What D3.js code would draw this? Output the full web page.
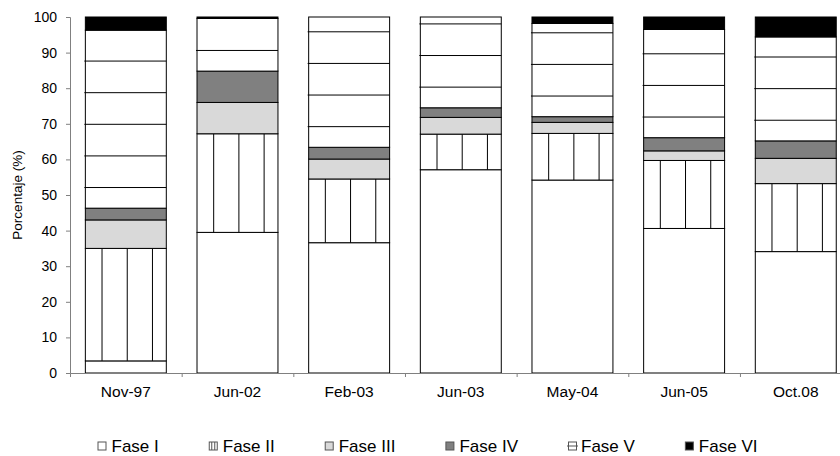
<!DOCTYPE html>
<html><head><meta charset="utf-8">
<script src="https://cdn.jsdelivr.net/npm/d3@7/dist/d3.min.js"></script>
<style>body{margin:0;background:#fff}svg{display:block;font-family:"Liberation Sans",Arial,sans-serif}</style>
</head><body><svg id="c" width="840" height="456"></svg>
<script>
const categories = ["Nov-97","Jun-02","Feb-03","Jun-03","May-04","Jun-05","Oct.08"];
const faseI   = [3.4,39.5,36.6,57.1,54.2,40.6,34.1];
const faseII  = [31.6,27.7,17.9,10.0,13.1,19.1,19.1];
const faseIII = [8.0,8.8,5.6,4.7,3.1,2.7,7.1];
const faseIV  = [3.3,8.8,3.3,2.7,1.6,3.7,4.9];
const faseV   = [50.0,14.8,36.6,25.5,26.2,30.4,29.2];
const faseVI  = [3.7,0.4,0,0,1.8,3.5,5.6];
const seriesNames = ["Fase I","Fase II","Fase III","Fase IV","Fase V","Fase VI"];
const yTicks = [0,10,20,30,40,50,60,70,80,90,100];
const yTitle = "Porcentaje (%)";

const seriesVals = [faseI,faseII,faseIII,faseIV,faseV,faseVI];
const fills = ["#ffffff","#ffffff","#d9d9d9","#808080","#ffffff","#000000"];
const table = categories.map((c,i)=>{const o={cat:c};seriesNames.forEach((s,j)=>o[s]=seriesVals[j][i]);return o;});

const svg = d3.select("#c");
const x0 = 70, x1 = 851.6, yTop = 17, yBot = 373;
const x = d3.scaleBand().domain(categories).range([x0,x1]).paddingInner(0.275).paddingOuter(0.1375);
const y = d3.scaleLinear().domain([0,100]).range([yBot,yTop]);
const stack = d3.stack().keys(seriesNames)(table);
const bw = x.bandwidth();

const g = svg.append("g");
stack.forEach((layer,j)=>{
  layer.forEach(d=>{
    const v = d[1]-d[0];
    if (v <= 0) return;
    const bx = x(d.data.cat), yt = y(d[1]), yb = y(d[0]);
    g.append("rect").attr("x",bx).attr("y",yt).attr("width",bw).attr("height",yb-yt)
      .attr("fill",fills[j]).attr("stroke","#000").attr("stroke-width",1);
    if (j===1) {
      [0.206,0.5175,0.829].forEach(f=>{
        g.append("line").attr("x1",bx+bw*f).attr("x2",bx+bw*f).attr("y1",yt).attr("y2",yb)
          .attr("stroke","#000").attr("stroke-width",1);
      });
    }
    if (j===4) {
      for (let k=0;;k++){
        const val = d[0]+5.8+8.88*k;
        if (val > d[1]-1) break;
        g.append("line").attr("x1",bx-1).attr("x2",bx+bw).attr("y1",y(val)).attr("y2",y(val))
          .attr("stroke","#000").attr("stroke-width",1);
      }
    }
  });
});

// Y axis
const ya = svg.append("g").attr("transform",`translate(${x0},0)`)
  .call(d3.axisLeft(y).tickValues(yTicks).tickSize(4).tickPadding(9));
ya.selectAll("path,line").attr("stroke","#808080");
ya.selectAll("text").attr("font-size",14).attr("fill","#000").attr("font-family","Liberation Sans, Arial, sans-serif");

// X axis: boundary ticks
const xb = d3.scaleLinear().domain([0,categories.length]).range([x0,x1]);
const xa = svg.append("g").attr("transform",`translate(0,${yBot})`)
  .call(d3.axisBottom(xb).tickValues(d3.range(1,categories.length+1)).tickSize(4).tickFormat(""));
xa.selectAll("path,line").attr("stroke","#808080");
const xl = svg.append("g").attr("transform",`translate(0,${yBot})`)
  .call(d3.axisBottom(x).tickSize(0).tickPadding(13));
xl.select(".domain").remove();
xl.selectAll("text").attr("font-size",15.5).attr("fill","#000").attr("font-family","Liberation Sans, Arial, sans-serif");

// Y title
svg.append("text").attr("transform","translate(22,195) rotate(-90)").attr("text-anchor","middle")
  .attr("font-size",13.5).text(yTitle);

// Legend
const lg = svg.append("g");
let lx = 98;
const sq = 8, sqY = 442;
seriesNames.forEach((s,j)=>{
  const it = lg.append("g");
  it.append("rect").attr("x",lx).attr("y",sqY).attr("width",sq).attr("height",sq)
    .attr("fill",fills[j]).attr("stroke","#555").attr("stroke-width",1);
  if (j===1){
    [2.5,5.5].forEach(o=>it.append("line").attr("x1",lx+o).attr("x2",lx+o).attr("y1",sqY).attr("y2",sqY+sq).attr("stroke","#555"));
  }
  let tx = lx+13.5;
  if (j===4){
    it.append("line").attr("x1",lx-1.5).attr("x2",lx+sq+1.5).attr("y1",sqY+sq/2).attr("y2",sqY+sq/2).attr("stroke","#555");
    tx = lx+12.5;
  }
  const t = it.append("text").attr("x",tx).attr("y",451.5).attr("font-size",17).text(s);
  lx = tx + t.node().getComputedTextLength() + 50.5;
});
</script></body></html>
